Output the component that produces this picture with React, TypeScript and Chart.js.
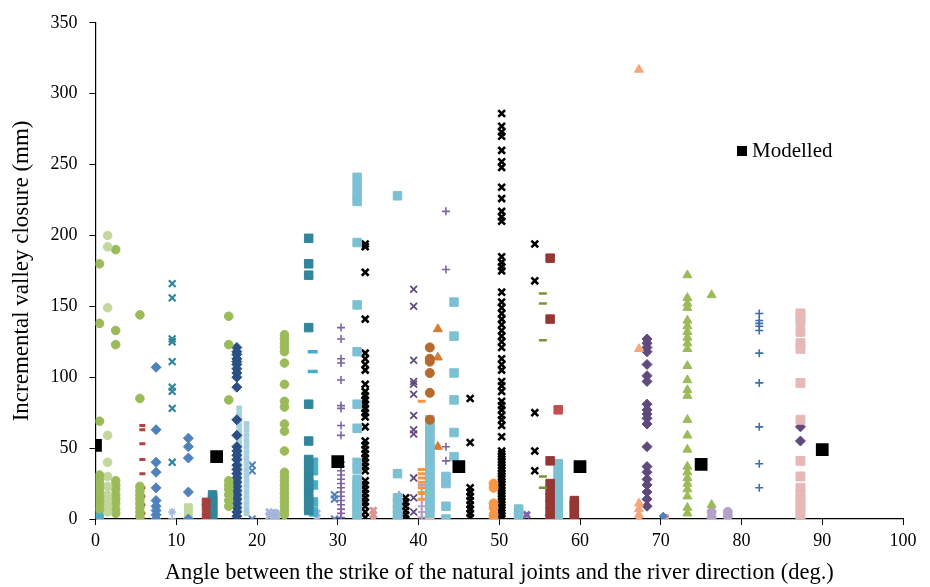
import React, { useEffect, useRef } from "react";
import { Chart, registerables } from "chart.js";

Chart.register(...registerables);

const FONT = "'Liberation Serif', 'Times New Roman', serif";

// ---- Modelled values ----
const modelledX = [0, 15, 30, 45, 60, 75, 90];
const modelledY = [52, 44, 40.5, 37, 37, 38.5, 49];

// ---- Observed columns (incremental valley closure, mm) ----
const c01 = [180, 138, 69, 31, 28, 25, 22, 19, 16, 13, 10, 7];
const c02 = [200, 192, 149, 59, 40, 30, 23, 17, 13, 9, 5];
const c03 = [190, 133, 123, 27, 24, 21, 17, 14, 11, 7, 4];
const c04 = [6, 4, 2, 0];
const c05 = [144, 85, 23, 20, 17, 14, 11, 8, 5, 2];
const c06 = [66, 63, 53, 42, 32, 22, 16, 10, 4, 0];
const c07 = [107, 63, 40, 33, 22, 13, 9, 6, 3, 0];
const c08 = [166, 156, 127, 125, 111, 93, 90, 78, 40];
const c09 = [5];
const c10 = [0];
const c11 = [57, 51, 43, 19, 0];
const c12 = [8, 3];
const c13 = [12, 8, 2];
const c14 = [17, 15, 13, 11, 9, 7, 5, 3, 1];
const c15 = [143, 123, 84, 27, 24, 21, 17, 13, 9];
const c16 = [121, 118, 116, 113, 111, 109, 106, 103, 100, 93, 70, 59, 51, 48, 45, 42, 38, 35, 32, 29, 26, 23, 20, 17, 14, 11, 8, 5, 2];
const c17 = [78, 74, 70, 66, 62, 58, 54, 50, 46, 42, 38, 34, 30, 26, 22, 18, 14, 10, 6];
const c18 = [67, 63, 59, 55, 51, 47, 43, 39, 35, 31, 27, 23, 19, 15, 11, 7, 4];
const c19 = [38, 34, 0];
const c20 = [5, 2];
const c21 = [4, 1];
const c22 = [130, 127, 124, 121, 118, 110, 95, 83, 79, 67, 62, 48, 33, 30, 27, 24, 21, 18, 15, 12, 9, 6, 3];
const c23 = [198, 180, 172, 135, 81, 55, 42, 38, 34, 30, 26, 22, 18, 14, 10, 6];
const c24 = [118, 104];
const c25 = [40, 34, 24, 12, 5];
const c26 = [4, 1];
const c27 = [17, 14, 0];
const c28 = [135, 127, 113, 110, 98, 80, 78, 66, 59, 40, 37, 34, 31, 28, 25, 22, 19, 16, 13, 10, 7, 4, 1];
const c29 = [241, 235, 229, 224, 195, 151, 118, 81, 64, 40, 35, 28, 25, 22, 19, 16, 13, 10, 7, 4, 1];
const c30 = [194, 192, 174, 141, 117, 113, 109, 105, 95, 90, 87, 84, 81, 78, 75, 72, 65, 55, 52, 49, 46, 43, 40, 37, 34, 27, 24, 21, 18, 15, 12, 9, 5, 1];
const c31 = [6, 3, 0];
const c32 = [228, 32, 15, 11, 7, 3, 0];
const c33 = [17, 13, 9, 5, 1];
const c34 = [15, 12, 9, 6, 3, 0];
const c35 = [162, 150, 112, 97, 95, 88, 73, 63, 60, 29, 15, 5];
const c36 = [83, 35, 32, 29, 26, 22, 18, 14];
const c37 = [24, 19, 14, 9, 5, 1];
const c38 = [121, 113, 111, 103, 89, 70];
const c39 = [70, 67, 64, 61, 58, 55, 52, 49, 46, 43, 40, 37, 34, 31, 28, 25, 22, 19, 16, 13, 10, 7, 4];
const c40 = [1];
const c41 = [134, 114, 51];
const c42 = [30, 25, 9, 0];
const c43 = [217, 176, 51, 41, 29];
const c44 = [153, 129, 103, 84, 61, 44];
const c45 = [85, 54, 22, 19, 16, 13, 10, 7, 4, 1];
const c46 = [25, 22, 11, 8, 3, 0];
const c47 = [286, 277, 273, 270, 260, 252, 248, 234, 226, 217, 213, 210, 185, 181, 178, 175, 160, 153, 149, 145, 141, 137, 133, 129, 125, 121, 113, 109, 105, 97, 94, 90, 83, 80, 77, 73, 70, 66, 58, 48, 46, 44, 42, 40, 38, 36, 34, 32, 30, 28, 26, 24, 22, 20, 18, 16, 14, 12, 10, 8, 6, 4, 2, 0];
const c48 = [7, 5, 2];
const c49 = [3];
const c50 = [194, 168, 75, 48, 34];
const c51 = [159, 152, 126, 30, 22];
const c52 = [184, 141, 41, 25, 20, 15, 10, 5, 0];
const c53 = [15, 12, 3];
const c54 = [77];
const c55 = [39, 36, 33, 30, 27, 24, 21, 18, 15, 12, 9, 6, 3, 0];
const c56 = [13, 10, 7, 4, 1];
const c57 = [317, 120, 11, 7, 3, 0];
const c58 = [127, 124, 121, 118, 109, 101, 97, 81, 77, 74, 71, 67, 51, 37, 33, 28, 24, 19, 14, 9];
const c59 = [2];
const c60 = [1];
const c61 = [172, 156, 152, 149, 140, 136, 132, 128, 124, 120, 108, 98, 91, 87, 70, 59, 49, 37, 33, 29, 25, 21, 16, 8, 4];
const c62 = [158, 10];
const c63 = [5, 1];
const c64 = [5, 2];
const c65 = [145, 140, 138, 136, 133, 117, 96, 65, 39, 22];
const c66 = [145, 142, 139, 132, 124, 120, 96, 70, 41, 30, 22, 18, 14, 11, 8, 5, 1];
const c67 = [65, 55, 0];

// angle (deg.) for each observed column, in the same order
const columnAngles = [
  0.5, 1.5, 2.5, 0.5, 5.5, 5.8, 7.5, 9.5, 9.5, 9.5,
  11.5, 11.5, 13.7, 14.5, 16.5, 17.5, 17.8, 18.7, 19.4, 21.5,
  22.3, 23.4, 26.4, 26.9, 27.0, 27.4, 29.6, 30.4, 32.4, 33.4,
  34.4, 37.4, 37.6, 38.4, 39.4, 40.4, 40.4, 41.4, 41.4, 41.4,
  42.4, 43.4, 43.4, 44.4, 46.4, 49.3, 50.3, 52.4, 53.4, 54.4,
  55.4, 56.3, 56.3, 57.3, 57.3, 59.3, 67.3, 68.3, 70.3, 70.6,
  73.3, 76.3, 76.3, 78.3, 82.2, 87.3, 87.3,
];

const columnValues = [
  c01, c02, c03, c04, c05, c06, c07, c08, c09, c10,
  c11, c12, c13, c14, c15, c16, c17, c18, c19, c20,
  c21, c22, c23, c24, c25, c26, c27, c28, c29, c30,
  c31, c32, c33, c34, c35, c36, c37, c38, c39, c40,
  c41, c42, c43, c44, c45, c46, c47, c48, c49, c50,
  c51, c52, c53, c54, c55, c56, c57, c58, c59, c60,
  c61, c62, c63, c64, c65, c66, c67,
];

// ---- Styles (marker, colour, radius, stroke) per column ----
type Sty = [string, string, number, number];
const GREEN = "#9BBB59";
const LGREEN = "#C3D69B";
const AQUA = "#4BACC6";
const TEAL = "#31859C";
const LAQUA = "#7CC0D3";
const PALEB = "#A8CFE0";
const BLUE = "#4F81BD";
const NAVY = "#2A5085";
const PERI = "#A4B6DA";
const PURPLE = "#8064A2";
const DPURP = "#604A7B";
const LAV = "#B3A2C7";
const RED = "#C0504D";
const DRED = "#953735";
const PINK = "#D99694";
const LPINK = "#E6B9B8";
const ORANGE = "#F79646";
const BROWN = "#B8692C";
const ORTRI = "#D97B30";
const PEACH = "#FAC090";
const PEACHT = "#F7A77A";
const OLIVE = "#77933C";
const BLACK = "#000000";

const columnStyles: Sty[] = [
  ["circle", GREEN, 4.3, 1], ["circle", LGREEN, 4.3, 1], ["circle", GREEN, 4.3, 1], ["rect", AQUA, 5, 1],
  ["circle", GREEN, 4.3, 1], ["line", "#B0413E", 3, 3], ["rectRot", BLUE, 5, 1], ["crossRot", TEAL, 4.8, 2.2],
  ["star", PERI, 4, 1.5], ["cross", PERI, 4, 1.5],
  ["rectRot", BLUE, 5, 1], ["rect", LGREEN, 5.5, 1], ["rect", "#A5403E", 5.5, 1], ["rect", TEAL, 6, 1],
  ["circle", GREEN, 4.3, 1], ["rectRot", NAVY, 5, 1], ["rect", PALEB, 3.4, 1], ["rect", PALEB, 3.4, 1],
  ["crossRot", BLUE, 4.8, 2], ["crossRot", PERI, 4.5, 3],
  ["circle", PERI, 4, 1], ["circle", GREEN, 4.3, 1], ["rect", TEAL, 6, 1], ["line", AQUA, 5, 3.5],
  ["rect", AQUA, 6, 1], ["crossRot", PERI, 4.5, 3], ["crossRot", BLUE, 4.8, 2], ["cross", PURPLE, 4, 1.6],
  ["rect", LAQUA, 6, 1], ["crossRot", BLACK, 4.8, 2.6],
  ["crossRot", PINK, 4.5, 3], ["rect", LAQUA, 6, 1], ["cross", LAV, 4, 2.5], ["crossRot", BLACK, 4.8, 2.6],
  ["crossRot", DPURP, 4.8, 1.8], ["line", ORANGE, 4, 3], ["cross", LAV, 4, 2], ["circle", BROWN, 4.5, 1],
  ["rect", LAQUA, 6, 1], ["rect", PEACH, 6, 1],
  ["triangle", ORTRI, 5.2, 1], ["rect", LAQUA, 6, 1], ["cross", PURPLE, 4, 1.6], ["rect", LAQUA, 6, 1],
  ["crossRot", BLACK, 4.8, 2.6], ["circle", ORANGE, 4.5, 1], ["crossRot", BLACK, 4.8, 2.6], ["rect", LAQUA, 6, 1],
  ["crossRot", PURPLE, 4.5, 3], ["crossRot", BLACK, 4.8, 2.6],
  ["line", OLIVE, 4, 2.5], ["rect", DRED, 6, 1], ["rect", PEACH, 6, 1], ["rect", RED, 6, 1],
  ["rect", LAQUA, 6, 1], ["rect", DRED, 6, 1], ["triangle", PEACHT, 5.2, 1], ["rectRot", DPURP, 5, 1],
  ["rectRot", BLUE, 4, 1], ["rect", PINK, 4, 1],
  ["triangle", GREEN, 5.2, 1], ["triangle", GREEN, 5.2, 1], ["circle", LAV, 4.5, 1], ["circle", LAV, 4.5, 1],
  ["cross", "#3C6EAB", 4, 1.6], ["rect", LPINK, 6.3, 1], ["rectRot", DPURP, 5, 1],
];

function column(x: number, ys: number[]) {
  return ys.map((y) => ({ x, y }));
}

const legendPlugin = {
  id: "modelledLegend",
  afterDraw(chart: any) {
    const { ctx } = chart;
    const lx = 737;
    const ly = 151;
    ctx.save();
    ctx.fillStyle = "#000";
    ctx.fillRect(lx, ly - 5, 10, 10);
    ctx.font = `21px ${FONT}`;
    ctx.textBaseline = "middle";
    ctx.textAlign = "left";
    ctx.fillText("Modelled", lx + 15, ly);
    ctx.restore();
  },
};

export default function App() {
  const ref = useRef<HTMLCanvasElement | null>(null);

  useEffect(() => {
    if (!ref.current) return;
    const modelled = {
      label: "Modelled",
      data: modelledX.map((x, i) => ({ x, y: modelledY[i] })),
      pointStyle: "rect",
      pointRadius: 9,
      pointBackgroundColor: "#000",
      pointBorderColor: "#000",
      pointBorderWidth: 0,
      showLine: false,
      order: 0,
    };
    const observed = columnValues.map((ys, i) => {
      const [style, color, r, bw] = columnStyles[i];
      return {
        label: `Measured ${i + 1}`,
        data: column(columnAngles[i], ys),
        pointStyle: style,
        pointRadius: r,
        pointBackgroundColor: color,
        pointBorderColor: color,
        pointBorderWidth: bw,
        showLine: false,
        order: 1,
      };
    });

    const chart = new Chart(ref.current, {
      type: "scatter",
      data: { datasets: [modelled, ...observed] as any },
      options: {
        animation: false,
        responsive: true,
        maintainAspectRatio: false,
        layout: { padding: { top: 19, right: 27, left: 0, bottom: 0 } },
        plugins: { legend: { display: false }, tooltip: { enabled: false } },
        elements: { point: { hoverRadius: 0 } },
        scales: {
          x: {
            type: "linear",
            min: 0,
            max: 100,
            ticks: {
              stepSize: 10,
              color: "#000",
              font: { family: FONT, size: 18 },
              padding: 5,
              maxRotation: 0,
            },
            grid: {
              display: true,
              drawOnChartArea: false,
              drawTicks: true,
              tickLength: 6,
              color: "#000",
            },
            border: { display: true, color: "#000", width: 1.2 },
            title: {
              display: true,
              text: "Angle between the strike of the natural joints and the river direction (deg.)",
              color: "#000",
              font: { family: FONT, size: 22.5, lineHeight: 1.2 },
              padding: { top: 0, bottom: 0 },
            },
            afterFit: (s: any) => {
              s.height = 68;
            },
          },
          y: {
            type: "linear",
            min: 0,
            max: 350,
            ticks: {
              stepSize: 50,
              color: "#000",
              font: { family: FONT, size: 18 },
              padding: 12,
            },
            grid: {
              display: true,
              drawOnChartArea: false,
              drawTicks: true,
              tickLength: 6,
              color: "#000",
            },
            border: { display: true, color: "#000", width: 1.2 },
            title: {
              display: true,
              text: "Incremental valley closure (mm)",
              color: "#000",
              font: { family: FONT, size: 23, lineHeight: 1.2 },
              padding: { top: 8, bottom: 0 },
            },
            afterFit: (s: any) => {
              s.width = 95.5;
            },
          },
        },
      } as any,
      plugins: [legendPlugin],
    });
    return () => chart.destroy();
  }, []);

  return (
    <div style={{ position: "absolute", left: 0, top: 0, width: 930, height: 587 }}>
      <canvas ref={ref} />
    </div>
  );
}
